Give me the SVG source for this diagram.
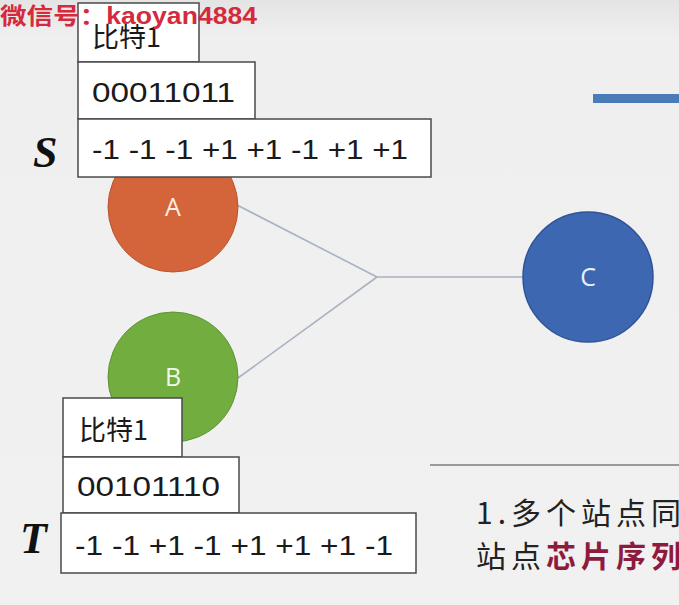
<svg xmlns="http://www.w3.org/2000/svg" width="679" height="605" viewBox="0 0 679 605">
<defs>
<linearGradient id="bg" x1="0" y1="0" x2="0" y2="1">
<stop offset="0" stop-color="#e4e4e4"/>
<stop offset="0.06" stop-color="#efefef"/>
<stop offset="1" stop-color="#f1f1f1"/>
</linearGradient>
</defs>
<style>
.box{fill:#ffffff;stroke:#4a4a4a;stroke-width:1.5}
.t{font-family:"Liberation Sans","Noto Sans CJK SC",sans-serif;font-size:28px;fill:#1a1a1a}
.cj{font-family:"Noto Sans CJK SC","Liberation Sans",sans-serif;font-size:27px;fill:#1a1a1a}
.lbl{font-family:"Open Sans","Liberation Sans",sans-serif;font-size:25px;text-anchor:middle}
.big{font-family:"Liberation Serif",serif;font-weight:bold;font-style:italic;font-size:44px;fill:#111}
.edge{stroke:#a8b2c0;stroke-width:1.6;fill:none}
.note{font-family:"Noto Sans CJK SC","Liberation Sans",sans-serif;font-size:30px;letter-spacing:5px;fill:#222}
</style>
<rect width="679" height="605" fill="url(#bg)"/>
<rect x="593" y="94" width="86" height="9" fill="#4a7db8"/>
<line x1="430" y1="465" x2="679" y2="465" stroke="#9a9a9a" stroke-width="2"/>

<g id="connectors">
<line class="edge" x1="237" y1="205" x2="377" y2="277"/>
<line class="edge" x1="238" y1="378" x2="377" y2="277"/>
<line class="edge" x1="377" y1="277" x2="523" y2="277"/>
</g>

<g id="node-A">
<circle cx="173" cy="207" r="65" fill="#d4653a" stroke="#b85530" stroke-width="1"/>
<text class="lbl" x="173" y="216" fill="#fdf0e4">A</text>
</g>
<g id="node-B">
<circle cx="173" cy="377" r="65" fill="#72ad40" stroke="#5e9433" stroke-width="1"/>
<text class="lbl" x="173" y="386" fill="#f0fae6">B</text>
</g>
<g id="node-C">
<circle cx="588" cy="277" r="65" fill="#3e67b1" stroke="#2f5496" stroke-width="1.5"/>
<text class="lbl" x="588" y="286" fill="#e4f3ff">C</text>
</g>

<g id="S-seq">
<rect class="box" x="78" y="3" width="121" height="59"/>
<text class="cj" x="92" y="47">比特1</text>
<rect class="box" x="78" y="62" width="177" height="57"/>
<text class="t" x="92" y="102" textLength="143" lengthAdjust="spacingAndGlyphs">00011011</text>
<rect class="box" x="78" y="119" width="353" height="58"/>
<text class="t" x="92" y="159" textLength="316" lengthAdjust="spacingAndGlyphs">-1 -1 -1 +1 +1 -1 +1 +1</text>
<text class="big" x="33" y="167">S</text>
</g>

<g id="T-seq">
<rect class="box" x="63" y="398" width="119" height="59"/>
<text class="cj" x="79" y="440">比特1</text>
<rect class="box" x="63" y="457" width="176" height="56"/>
<text class="t" x="77" y="496" textLength="143" lengthAdjust="spacingAndGlyphs">00101110</text>
<rect class="box" x="61" y="513" width="355" height="60"/>
<text class="t" x="75" y="555" textLength="318" lengthAdjust="spacingAndGlyphs">-1 -1 +1 -1 +1 +1 +1 -1</text>
<text class="big" x="20" y="553">T</text>
</g>

<text x="0" y="24" font-family="Liberation Sans,'Noto Sans CJK SC',sans-serif" font-weight="bold" font-size="23" fill="#d42a3c" textLength="257" lengthAdjust="spacingAndGlyphs">微信号：kaoyan4884</text>

<text class="note" x="476" y="524">1.多个站点同</text>
<text class="note" x="476" y="567">站点<tspan fill="#8e1b3e" font-weight="bold">芯片序列</tspan></text>
</svg>
